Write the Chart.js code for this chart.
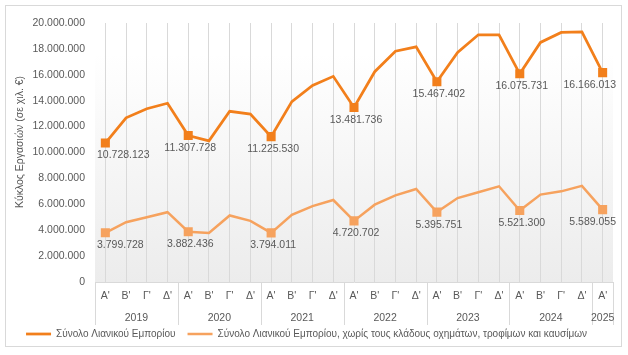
<!DOCTYPE html>
<html>
<head>
<meta charset="utf-8">
<script src="https://cdn.jsdelivr.net/npm/chart.js@4.4.1/dist/chart.umd.min.js"></script>
<style>
html,body{margin:0;padding:0;background:#fff;}
#wrap{position:relative;width:628px;height:355px;}
</style>
</head>
<body>
<div id="wrap"><canvas id="c" width="628" height="355"></canvas></div>
<script>
// ---- data ----
const years = ['2019', '2020', '2021', '2022', '2023', '2024', '2025'];
const quarters = ["Α'", "Β'", "Γ'", "Δ'"];
const yearQuarterCount = [4, 4, 4, 4, 4, 4, 1];
const seriesNames = [
  'Σύνολο Λιανικού Εμπορίου',
  'Σύνολο Λιανικού Εμπορίου, χωρίς τους κλάδους οχημάτων, τροφίμων και καυσίμων'
];
const totalRetail = [
  10728123, 12680000, 13380000, 13800000,
  11307728, 10900000, 13180000, 12970000,
  11225530, 13930000, 15180000, 15880000,
  13481736, 16240000, 17820000, 18160000,
  15467402, 17720000, 19090000, 19090000,
  16075731, 18500000, 19270000, 19320000,
  16166013
];
const retailExcl = [
  3799728, 4620000, 5000000, 5390000,
  3882436, 3790000, 5140000, 4720000,
  3794011, 5190000, 5860000, 6330000,
  4720702, 5970000, 6690000, 7180000,
  5395751, 6480000, 6930000, 7390000,
  5521300, 6750000, 7000000, 7420000,
  5589055
];
const yTickMin = 0, yTickMax = 20000000, yTickStep = 2000000;
const yAxisTitle = 'Κύκλος Εργασιών (σε χιλ. €)';

// ---- build categories ----
const categories = [];
const quarterOf = [];
years.forEach((y, yi) => {
  for (let q = 0; q < yearQuarterCount[yi]; q++) {
    categories.push(y + ' ' + quarters[q]);
    quarterOf.push(q);
  }
});

const fmt = v => Math.round(v).toString().replace(/\B(?=(\d{3})+(?!\d))/g, '.');
const FONT = '"Liberation Sans", Arial, sans-serif';
const TXT = '#595959';
const GRID = '#d9d9d9';
const C1 = '#F27F1B';
const C2 = '#F6A25E';
const lineWidths = [2.75, 2.5];

const markerRadius = quarterOf.map(q => q === 0 ? 6.4 : 0);

const decor = {
  id: 'decor',
  beforeDraw(chart) {
    const {ctx, chartArea: a} = chart;
    ctx.save();
    ctx.strokeStyle = GRID;
    ctx.lineWidth = 1;
    ctx.strokeRect(5.5, 5.5, 616, 341);
    const g = ctx.createLinearGradient(0, a.top, 0, a.bottom);
    g.addColorStop(0, '#ffffff');
    g.addColorStop(0.12, '#ffffff');
    g.addColorStop(1, '#ececec');
    ctx.fillStyle = g;
    ctx.fillRect(a.left, a.top, a.right - a.left, a.bottom - a.top);
    ctx.restore();
  },
  afterDraw(chart) {
    const {ctx, chartArea: a, scales} = chart;
    const x = scales.x;
    ctx.save();
    ctx.fillStyle = TXT;
    ctx.font = '10.5px ' + FONT;
    ctx.textAlign = 'center';
    ctx.textBaseline = 'middle';
    ctx.translate(20, 142);
    ctx.rotate(-Math.PI / 2);
    ctx.fillText(yAxisTitle, 0, 0);
    ctx.restore();

    ctx.save();
    ctx.strokeStyle = GRID;
    ctx.lineWidth = 1;
    const sepBottom = a.bottom + 43;
    const bounds = [a.left];
    let idx = 0;
    years.forEach((y, yi) => {
      idx += yearQuarterCount[yi];
      if (yi < years.length - 1) {
        bounds.push((x.getPixelForValue(idx - 1) + x.getPixelForValue(idx)) / 2);
      }
    });
    bounds.push(a.right);
    bounds.forEach(b => {
      const bx = Math.round(b) + 0.5;
      ctx.beginPath();
      ctx.moveTo(bx, a.bottom);
      ctx.lineTo(bx, sepBottom);
      ctx.stroke();
    });
    ctx.fillStyle = TXT;
    ctx.font = '10.5px ' + FONT;
    ctx.textAlign = 'center';
    ctx.textBaseline = 'middle';
    years.forEach((y, yi) => {
      ctx.fillText(y, (bounds[yi] + bounds[yi + 1]) / 2, a.bottom + 36);
    });
    ctx.restore();
  },
  afterDatasetsDraw(chart) {
    const {ctx, chartArea: a} = chart;
    ctx.save();
    ctx.fillStyle = TXT;
    ctx.font = '10.5px ' + FONT;
    ctx.textBaseline = 'middle';
    ctx.textAlign = 'left';
    chart.data.datasets.forEach((ds, di) => {
      const meta = chart.getDatasetMeta(di);
      meta.data.forEach((pt, i) => {
        if (quarterOf[i] !== 0) return;
        const t = fmt(ds.data[i]);
        const w = ctx.measureText(t).width;
        let left = pt.x - w / 2 + 2;
        if (left < a.left + 2) left = a.left + 2;
        if (left + w > a.right + 3) left = a.right + 3 - w;
        ctx.fillText(t, left, pt.y + 12.5);
      });
    });
    ctx.restore();
  }
};

new Chart(document.getElementById('c'), {
  type: 'line',
  data: {
    labels: categories,
    datasets: [
      {
        label: seriesNames[0],
        data: totalRetail,
        borderColor: C1,
        backgroundColor: C1,
        borderWidth: lineWidths[0],
        pointStyle: 'rect',
        pointRadius: markerRadius,
        pointHoverRadius: markerRadius,
        pointBorderWidth: 0,
        tension: 0
      },
      {
        label: seriesNames[1],
        data: retailExcl,
        borderColor: C2,
        backgroundColor: C2,
        borderWidth: lineWidths[1],
        pointStyle: 'rect',
        pointRadius: markerRadius,
        pointHoverRadius: markerRadius,
        pointBorderWidth: 0,
        tension: 0
      }
    ]
  },
  options: {
    responsive: false,
    animation: false,
    events: [],
    layout: {padding: {left: 0, right: 15, top: 23, bottom: 6}},
    plugins: {
      legend: {
        position: 'bottom',
        labels: {
          usePointStyle: true,
          pointStyle: 'line',
          pointStyleWidth: 25,
          padding: 12,
          color: TXT,
          font: {family: FONT, size: 10},
          generateLabels: chart => {
            const items = Chart.defaults.plugins.legend.labels.generateLabels(chart);
            items.forEach((it, i) => {
              it.lineWidth = lineWidths[i];
              it.strokeStyle = i === 0 ? C1 : C2;
              it.pointStyle = 'line';
            });
            return items;
          }
        }
      },
      tooltip: {enabled: false}
    },
    scales: {
      x: {
        offset: true,
        grid: {display: true, offset: false, color: GRID, drawTicks: false},
        border: {display: true, color: GRID},
        ticks: {
          color: TXT,
          font: {family: FONT, size: 10.5},
          padding: 8,
          maxRotation: 0,
          autoSkip: false,
          callback: (v, i) => quarters[quarterOf[i]]
        },
        afterFit: s => { s.height = 35; }
      },
      y: {
        min: yTickMin,
        max: yTickMax,
        grid: {display: false, drawTicks: false},
        border: {display: false},
        ticks: {
          stepSize: yTickStep,
          color: TXT,
          font: {family: FONT, size: 10.5},
          padding: 10,
          callback: v => fmt(v)
        },
        afterFit: s => { s.width = 95; }
      }
    }
  },
  plugins: [decor]
});
</script>
</body>
</html>
